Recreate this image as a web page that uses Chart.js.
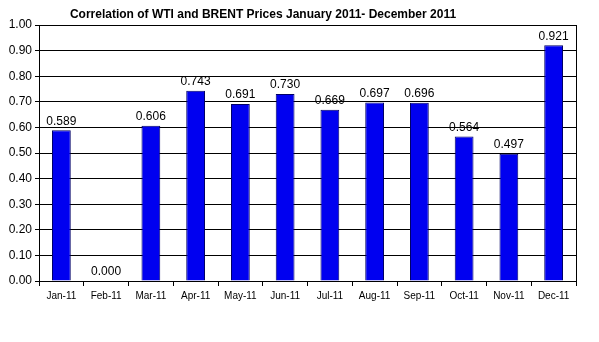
<!DOCTYPE html>
<html>
<head>
<meta charset="utf-8">
<script src="https://cdn.jsdelivr.net/npm/chart.js@4"></script>
<style>
  html, body { margin: 0; padding: 0; background: #fff; }
  #wrap { width: 599px; height: 342px; }
</style>
</head>
<body>
<div id="wrap"><canvas id="corrChart"></canvas></div>
<script>
// Monthly WTI / Brent correlation, 2011
const months = ['Jan-11', 'Feb-11', 'Mar-11', 'Apr-11', 'May-11', 'Jun-11',
                'Jul-11', 'Aug-11', 'Sep-11', 'Oct-11', 'Nov-11', 'Dec-11'];
const correlation = [0.589, 0.000, 0.606, 0.743, 0.691, 0.730,
                     0.669, 0.697, 0.696, 0.564, 0.497, 0.921];
const titleText = 'Correlation of WTI and BRENT Prices January 2011- December 2011';

const FONT = '"Liberation Sans", Arial, sans-serif';

// title sits a bit left of the plot centre, like the original sheet
const titlePlugin = {
  id: 'sheetTitle',
  afterDraw(chart) {
    const ctx = chart.ctx;
    ctx.save();
    ctx.font = 'bold 12px ' + FONT;
    ctx.fillStyle = '#000';
    ctx.textAlign = 'center';
    ctx.textBaseline = 'middle';
    ctx.fillText(titleText, 263, 15);
    ctx.restore();
  }
};

// value labels above each bar
const valueLabels = {
  id: 'valueLabels',
  afterDatasetsDraw(chart) {
    const ctx = chart.ctx;
    const meta = chart.getDatasetMeta(0);
    ctx.save();
    ctx.font = '12px ' + FONT;
    ctx.fillStyle = '#000';
    ctx.textAlign = 'center';
    ctx.textBaseline = 'bottom';
    meta.data.forEach((bar, i) => {
      ctx.fillText(correlation[i].toFixed(3), bar.x, bar.y - 3);
    });
    ctx.restore();
  }
};

// right-hand border of the plot area
const plotBorder = {
  id: 'plotBorder',
  beforeDatasetsDraw(chart) {
    const { ctx, chartArea: a } = chart;
    ctx.save();
    ctx.strokeStyle = '#000';
    ctx.lineWidth = 1;
    ctx.beginPath();
    ctx.moveTo(Math.round(a.right) + 0.5, a.top);
    ctx.lineTo(Math.round(a.right) + 0.5, a.bottom);
    ctx.stroke();
    ctx.restore();
  }
};

new Chart(document.getElementById('corrChart'), {
  type: 'bar',
  data: {
    labels: months,
    datasets: [{
      data: correlation,
      backgroundColor: '#0000f0',
      borderColor: '#000066',
      borderWidth: 1,
      barPercentage: 0.42,
      categoryPercentage: 1.0
    }]
  },
  options: {
    responsive: true,
    maintainAspectRatio: false,
    animation: false,
    layout: { padding: { top: 25, right: 23, left: 0, bottom: 0 } },
    plugins: {
      legend: { display: false },
      tooltip: { enabled: false }
    },
    scales: {
      x: {
        offset: true,
        grid: {
          display: true,
          offset: true,
          drawOnChartArea: false,
          drawTicks: true,
          tickLength: 5,
          color: '#000'
        },
        border: { color: '#000', width: 1 },
        ticks: {
          color: '#000',
          font: { family: FONT, size: 10 },
          maxRotation: 0,
          autoSkip: false,
          padding: 4
        },
        afterFit(scale) { scale.height = 61; }
      },
      y: {
        min: 0,
        max: 1,
        ticks: {
          stepSize: 0.1,
          color: '#000',
          font: { family: FONT, size: 12 },
          padding: 3,
          callback: v => v.toFixed(2)
        },
        grid: {
          color: '#000',
          tickLength: 4,
          drawTicks: true
        },
        border: { color: '#000', width: 1 },
        afterFit(scale) { scale.width = 39; }
      }
    }
  },
  plugins: [titlePlugin, valueLabels, plotBorder]
});
</script>
</body>
</html>
